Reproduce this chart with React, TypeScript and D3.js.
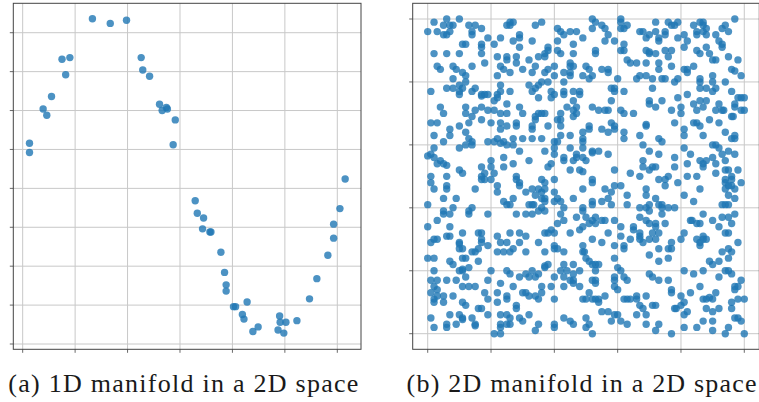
import { useEffect, useRef } from "react";
import * as d3 from "d3";

// (a) noisy sine: x in radians, y around sin(x)
const sineX = [
  0.13, 0.13, 0.39, 0.46, 0.55, 0.75, 0.82, 0.9, 1.33, 1.67, 1.98, 2.26, 2.29, 2.42, 2.61, 2.66, 2.74,
  2.76, 2.91, 2.87, 3.29, 3.33, 3.45, 3.43, 3.57, 3.59, 3.78, 3.85, 3.88, 3.88, 4.02, 4.06, 4.28, 4.19,
  4.22, 4.39, 4.49, 4.9, 4.91, 5.02, 4.87, 4.98, 5.23, 5.47, 5.61, 5.82, 5.93, 5.93, 6.05, 6.15,
];
const sineY = [
  0.29, 0.23, 0.51, 0.47, 0.59, 0.83, 0.73, 0.84, 1.09, 1.06, 1.08, 0.84, 0.76, 0.72, 0.54, 0.5, 0.52,
  0.51, 0.44, 0.28, -0.08, -0.16, -0.19, -0.26, -0.28, -0.28, -0.41, -0.54, -0.62, -0.66, -0.76, -0.76,
  -0.73, -0.81, -0.84, -0.92, -0.89, -0.82, -0.86, -0.86, -0.91, -0.93, -0.85, -0.71, -0.58, -0.43,
  -0.32, -0.23, -0.13, 0.06,
];
const sineXTicks = [0, 1, 2, 3, 4, 5, 6];
const sineYTicks = [-1, -0.75, -0.5, -0.25, 0, 0.25, 0.5, 0.75, 1];

// (b) points filling the unit square
const planeTop: [number, number][] = [
  [0.0, 0.96], [0.02, 0.99], [0.03, 0.96], [0.05, 0.95], [0.05, 0.98], [0.06, 1.0], [0.07, 0.98], [0.07, 0.96],
  [0.08, 0.98], [0.06, 0.95], [0.1, 1.0], [0.13, 0.98], [0.15, 0.98], [0.14, 0.96], [0.14, 0.95], [0.17, 0.97],
  [0.17, 0.92], [0.19, 0.94], [0.17, 0.91], [0.11, 0.92], [0.12, 0.92], [0.21, 0.92], [0.23, 0.94], [0.25, 0.98],
  [0.26, 0.99], [0.27, 0.99], [0.26, 0.98], [0.29, 0.95], [0.29, 0.94], [0.27, 0.93], [0.29, 0.91], [0.25, 0.88],
  [0.25, 0.87], [0.28, 0.88], [0.28, 0.86], [0.22, 0.88], [0.23, 0.85], [0.24, 0.84], [0.26, 0.83], [0.22, 0.82],
  [0.3, 0.84], [0.02, 0.89], [0.06, 0.89], [0.1, 0.89], [0.03, 0.85], [0.04, 0.84], [0.08, 0.85], [0.09, 0.84],
  [0.14, 0.85], [0.17, 0.89], [0.18, 0.86], [0.11, 0.83], [0.12, 0.82], [0.12, 0.8], [0.08, 0.81], [0.08, 0.78],
  [0.06, 0.78], [0.1, 0.79], [0.11, 0.78], [0.1, 0.77], [0.1, 0.76], [0.01, 0.77], [0.14, 0.77], [0.15, 0.78],
  [0.17, 0.76], [0.18, 0.76], [0.19, 0.76], [0.17, 0.755], [0.21, 0.74], [0.22, 0.76], [0.23, 0.77], [0.23, 0.79],
  [0.26, 0.77], [0.22, 0.75], [0.04, 0.72], [0.05, 0.7], [0.12, 0.72], [0.12, 0.7], [0.14, 0.69], [0.15, 0.71],
  [0.17, 0.72], [0.17, 0.68], [0.19, 0.71], [0.21, 0.71], [0.23, 0.7], [0.25, 0.73], [0.25, 0.7], [0.29, 0.72],
  [0.3, 0.7], [0.01, 0.67], [0.03, 0.67], [0.07, 0.65], [0.07, 0.63], [0.1, 0.66], [0.12, 0.64], [0.13, 0.67],
  [0.13, 0.62], [0.14, 0.61], [0.2, 0.67], [0.23, 0.67], [0.23, 0.65], [0.22, 0.62], [0.24, 0.61], [0.25, 0.66],
  [0.28, 0.67], [0.28, 0.66], [0.27, 0.62], [0.3, 0.62], [0.02, 0.63], [0.05, 0.61], [0.1, 0.59], [0.12, 0.6],
  [0.14, 0.6], [0.19, 0.61], [0.21, 0.61], [0.23, 0.605], [0.25, 0.6], [0.27, 0.6], [0.29, 0.58], [0.02, 0.59],
  [0.01, 0.57], [0.0, 0.565], [0.02, 0.56], [0.04, 0.55], [0.05, 0.54], [0.06, 0.535], [0.03, 0.54], [0.2, 0.55],
  [0.2, 0.53], [0.17, 0.53], [0.18, 0.51], [0.21, 0.51], [0.24, 0.56], [0.24, 0.53], [0.27, 0.54], [0.01, 0.5],
  [0.06, 0.5], [0.1, 0.52], [0.11, 0.51], [0.17, 0.5], [0.28, 0.5],
  [0.34, 0.98], [0.36, 0.99], [0.41, 0.97], [0.42, 0.96], [0.43, 0.95], [0.45, 0.96], [0.47, 0.96], [0.49, 0.94],
  [0.52, 0.97], [0.52, 1.0], [0.53, 0.99], [0.55, 0.98], [0.56, 0.97], [0.57, 0.95], [0.59, 0.93], [0.61, 1.0],
  [0.61, 0.99], [0.63, 0.98], [0.61, 0.97], [0.62, 0.97], [0.56, 0.93], [0.62, 0.92], [0.62, 0.9], [0.33, 0.93],
  [0.32, 0.87], [0.35, 0.88], [0.34, 0.85], [0.33, 0.83], [0.37, 0.83], [0.38, 0.84], [0.37, 0.88], [0.38, 0.9],
  [0.38, 0.91], [0.37, 0.89], [0.41, 0.93], [0.41, 0.9], [0.42, 0.89], [0.46, 0.92], [0.46, 0.89], [0.45, 0.86],
  [0.45, 0.85], [0.45, 0.83], [0.45, 0.82], [0.43, 0.83], [0.46, 0.85], [0.4, 0.85], [0.4, 0.82], [0.49, 0.82],
  [0.5, 0.85], [0.51, 0.84], [0.51, 0.81], [0.52, 0.82], [0.53, 0.89], [0.53, 0.9], [0.55, 0.84], [0.57, 0.84],
  [0.57, 0.83], [0.6, 0.81], [0.61, 0.9], [0.63, 0.87], [0.64, 0.86], [0.32, 0.79], [0.34, 0.78], [0.33, 0.77],
  [0.35, 0.79], [0.35, 0.75], [0.36, 0.8], [0.38, 0.8], [0.39, 0.77], [0.39, 0.75], [0.4, 0.76], [0.43, 0.8],
  [0.43, 0.77], [0.43, 0.76], [0.46, 0.77], [0.46, 0.74], [0.48, 0.77], [0.48, 0.76], [0.52, 0.72], [0.54, 0.71],
  [0.56, 0.71], [0.57, 0.71], [0.58, 0.74], [0.58, 0.78], [0.59, 0.78], [0.59, 0.77], [0.62, 0.77], [0.61, 0.71],
  [0.62, 0.7], [0.65, 0.7], [0.35, 0.7], [0.34, 0.69], [0.36, 0.7], [0.37, 0.7], [0.34, 0.68], [0.33, 0.66],
  [0.33, 0.65], [0.38, 0.66], [0.41, 0.68], [0.42, 0.7], [0.42, 0.68], [0.42, 0.66], [0.44, 0.72], [0.46, 0.71],
  [0.47, 0.72], [0.47, 0.7], [0.46, 0.69], [0.49, 0.64], [0.51, 0.66], [0.51, 0.65], [0.55, 0.65], [0.58, 0.67],
  [0.59, 0.66], [0.59, 0.65], [0.57, 0.64], [0.62, 0.64], [0.62, 0.62], [0.33, 0.62], [0.36, 0.62], [0.4, 0.61],
  [0.41, 0.61], [0.42, 0.63], [0.45, 0.63], [0.49, 0.62], [0.49, 0.61], [0.45, 0.59], [0.49, 0.59], [0.52, 0.58],
  [0.52, 0.575], [0.54, 0.58], [0.57, 0.57], [0.37, 0.58], [0.4, 0.59], [0.4, 0.57], [0.47, 0.57], [0.47, 0.56],
  [0.49, 0.56], [0.43, 0.56], [0.43, 0.55], [0.46, 0.55], [0.5, 0.55], [0.32, 0.55], [0.38, 0.53], [0.39, 0.54],
  [0.45, 0.52], [0.48, 0.52], [0.49, 0.515], [0.59, 0.52], [0.64, 0.51],
  [0.72, 0.99], [0.76, 0.99], [0.77, 0.98], [0.78, 0.98], [0.79, 0.99], [0.67, 0.96], [0.68, 0.96], [0.69, 0.94],
  [0.7, 0.95], [0.72, 0.96], [0.73, 0.94], [0.73, 0.93], [0.75, 0.96], [0.75, 0.95], [0.79, 0.94], [0.81, 0.95],
  [0.82, 0.93], [0.84, 0.98], [0.85, 0.96], [0.85, 0.95], [0.86, 0.99], [0.87, 0.99], [0.87, 0.98], [0.88, 0.97],
  [0.88, 0.95], [0.87, 0.96], [0.91, 0.95], [0.92, 0.93], [0.93, 0.92], [0.93, 0.97], [0.94, 0.98], [0.95, 0.96],
  [0.97, 1.0], [0.69, 0.9], [0.7, 0.895], [0.7, 0.89], [0.72, 0.89], [0.75, 0.9], [0.77, 0.9], [0.76, 0.88],
  [0.73, 0.86], [0.77, 0.85], [0.69, 0.86], [0.66, 0.86], [0.81, 0.91], [0.85, 0.9], [0.86, 0.89], [0.88, 0.91],
  [0.89, 0.89], [0.9, 0.87], [0.91, 0.87], [0.93, 0.91], [0.95, 0.88], [0.98, 0.87], [0.96, 0.84], [0.97, 0.835],
  [0.99, 0.82], [0.73, 0.84], [0.81, 0.84], [0.82, 0.83], [0.82, 0.84], [0.84, 0.85], [0.67, 0.82], [0.66, 0.81],
  [0.69, 0.82], [0.71, 0.81], [0.74, 0.81], [0.75, 0.81], [0.79, 0.81], [0.78, 0.8], [0.86, 0.81], [0.86, 0.8],
  [0.9, 0.82], [0.9, 0.8], [0.94, 0.8], [0.71, 0.78], [0.7, 0.74], [0.7, 0.73], [0.72, 0.72], [0.74, 0.74],
  [0.77, 0.71], [0.79, 0.75], [0.8, 0.72], [0.8, 0.7], [0.82, 0.76], [0.84, 0.73], [0.85, 0.71], [0.86, 0.74],
  [0.87, 0.72], [0.88, 0.74], [0.88, 0.78], [0.91, 0.78], [0.86, 0.78], [0.9, 0.77], [0.92, 0.73], [0.91, 0.71],
  [0.93, 0.71], [0.935, 0.71], [0.96, 0.77], [0.98, 0.75], [0.97, 0.73], [0.99, 0.75], [1.0, 0.75], [0.99, 0.71],
  [1.0, 0.71], [0.97, 0.72], [0.96, 0.69], [0.965, 0.69], [0.89, 0.68], [0.84, 0.67], [0.85, 0.67], [0.86, 0.66],
  [0.92, 0.67], [0.78, 0.67], [0.69, 0.66], [0.69, 0.665], [0.81, 0.65], [0.81, 0.63], [0.87, 0.63], [0.94, 0.64],
  [0.96, 0.62], [0.97, 0.63], [0.97, 0.62], [0.67, 0.63], [0.68, 0.6], [0.73, 0.62], [0.74, 0.61], [0.81, 0.59],
  [0.83, 0.57], [0.9, 0.6], [0.91, 0.6], [0.92, 0.59], [0.93, 0.57], [0.95, 0.58], [0.97, 0.57], [0.94, 0.55],
  [0.9, 0.56], [0.91, 0.54], [0.88, 0.55], [0.87, 0.54], [0.86, 0.55], [0.87, 0.53], [0.82, 0.54], [0.78, 0.56],
  [0.78, 0.53], [0.73, 0.57], [0.71, 0.53], [0.72, 0.53], [0.7, 0.58], [0.68, 0.55], [0.68, 0.53], [0.7, 0.52],
  [0.67, 0.5], [0.76, 0.5], [0.82, 0.5], [0.85, 0.5], [0.91, 0.51], [0.94, 0.52], [0.95, 0.52], [0.96, 0.5],
  [0.98, 0.52],
];

const planeBottom: [number, number][] = [
  [0.01, 0.48], [0.02, 0.46], [0.06, 0.47], [0.06, 0.46], [0.05, 0.43], [0.09, 0.43], [0.17, 0.49], [0.15, 0.46],
  [0.18, 0.49], [0.2, 0.49], [0.22, 0.47], [0.22, 0.45], [0.28, 0.49], [0.29, 0.48], [0.29, 0.47], [0.24, 0.42],
  [0.25, 0.41], [0.26, 0.41], [0.27, 0.43], [0.28, 0.38], [0.0, 0.41], [0.05, 0.39], [0.05, 0.38], [0.07, 0.38],
  [0.08, 0.4], [0.13, 0.39], [0.13, 0.38], [0.14, 0.4], [0.19, 0.38], [0.0, 0.34], [0.03, 0.36], [0.07, 0.34],
  [0.11, 0.32], [0.01, 0.29], [0.02, 0.3], [0.03, 0.3], [0.06, 0.31], [0.07, 0.31], [0.1, 0.29], [0.1, 0.285],
  [0.1, 0.27], [0.11, 0.27], [0.11, 0.24], [0.12, 0.24], [0.14, 0.26], [0.15, 0.26], [0.16, 0.27], [0.17, 0.29],
  [0.16, 0.32], [0.17, 0.32], [0.17, 0.3], [0.19, 0.28], [0.16, 0.23], [0.22, 0.31], [0.23, 0.29], [0.26, 0.32],
  [0.29, 0.32], [0.29, 0.29], [0.25, 0.29], [0.24, 0.26], [0.22, 0.26], [0.26, 0.26], [0.27, 0.27], [0.0, 0.24],
  [0.02, 0.24], [0.07, 0.23], [0.08, 0.22], [0.1, 0.2], [0.11, 0.2], [0.11, 0.205], [0.13, 0.21], [0.12, 0.18],
  [0.09, 0.17], [0.06, 0.17], [0.03, 0.17], [0.02, 0.2], [0.01, 0.17], [0.2, 0.2], [0.19, 0.17], [0.23, 0.16],
  [0.25, 0.2], [0.26, 0.19], [0.27, 0.15], [0.29, 0.18], [0.3, 0.13], [0.01, 0.13], [0.02, 0.15], [0.03, 0.14],
  [0.03, 0.12], [0.05, 0.12], [0.02, 0.11], [0.02, 0.1], [0.05, 0.1], [0.08, 0.12], [0.11, 0.1], [0.11, 0.15],
  [0.13, 0.15], [0.15, 0.15], [0.18, 0.13], [0.19, 0.11], [0.22, 0.1], [0.22, 0.13], [0.25, 0.12], [0.28, 0.09],
  [0.28, 0.08], [0.25, 0.11], [0.16, 0.08], [0.17, 0.08], [0.19, 0.06], [0.12, 0.09], [0.1, 0.06], [0.07, 0.06],
  [0.06, 0.03], [0.06, 0.02], [0.09, 0.03], [0.11, 0.05], [0.11, 0.045], [0.14, 0.05], [0.15, 0.03], [0.15, 0.025],
  [0.01, 0.05], [0.02, 0.02], [0.23, 0.06], [0.25, 0.06], [0.26, 0.05], [0.26, 0.03], [0.23, 0.03], [0.23, 0.02],
  [0.25, 0.03], [0.29, 0.05], [0.3, 0.04], [0.21, 0.0], [0.23, 0.0],
  [0.31, 0.45], [0.33, 0.46], [0.34, 0.44], [0.35, 0.46], [0.36, 0.49], [0.37, 0.48], [0.37, 0.46], [0.36, 0.45],
  [0.36, 0.43], [0.37, 0.43], [0.37, 0.42], [0.4, 0.49], [0.4, 0.45], [0.4, 0.42], [0.41, 0.43], [0.42, 0.42],
  [0.46, 0.43], [0.49, 0.46], [0.52, 0.48], [0.52, 0.49], [0.52, 0.42], [0.52, 0.41], [0.56, 0.46], [0.55, 0.42],
  [0.58, 0.45], [0.57, 0.43], [0.58, 0.41], [0.59, 0.47], [0.61, 0.47], [0.63, 0.44], [0.63, 0.41], [0.32, 0.41],
  [0.33, 0.41], [0.335, 0.41], [0.33, 0.38], [0.35, 0.39], [0.36, 0.4], [0.37, 0.39], [0.31, 0.38], [0.31, 0.31],
  [0.35, 0.29], [0.37, 0.32], [0.38, 0.32], [0.39, 0.33], [0.4, 0.32], [0.43, 0.4], [0.42, 0.38], [0.41, 0.35],
  [0.43, 0.36], [0.45, 0.32], [0.47, 0.37], [0.48, 0.33], [0.49, 0.34], [0.49, 0.39], [0.5, 0.37], [0.49, 0.4],
  [0.51, 0.35], [0.52, 0.36], [0.53, 0.37], [0.53, 0.35], [0.55, 0.36], [0.56, 0.36], [0.52, 0.3], [0.55, 0.29],
  [0.57, 0.32], [0.59, 0.36], [0.61, 0.34], [0.61, 0.31], [0.62, 0.28], [0.59, 0.28], [0.59, 0.24], [0.62, 0.27],
  [0.64, 0.3], [0.65, 0.34], [0.65, 0.33], [0.31, 0.26], [0.37, 0.26], [0.4, 0.28], [0.4, 0.27], [0.41, 0.27],
  [0.43, 0.26], [0.49, 0.28], [0.49, 0.26], [0.495, 0.26], [0.5, 0.24], [0.51, 0.23], [0.53, 0.22], [0.54, 0.22],
  [0.52, 0.22], [0.43, 0.22], [0.46, 0.22], [0.44, 0.2], [0.42, 0.2], [0.43, 0.18], [0.46, 0.19], [0.48, 0.2],
  [0.53, 0.2], [0.53, 0.17], [0.53, 0.16], [0.52, 0.17], [0.31, 0.19], [0.32, 0.18], [0.33, 0.2], [0.35, 0.19],
  [0.34, 0.18], [0.37, 0.21], [0.38, 0.22], [0.37, 0.215], [0.4, 0.18], [0.36, 0.15], [0.36, 0.13], [0.39, 0.15],
  [0.43, 0.15], [0.45, 0.17], [0.46, 0.17], [0.46, 0.16], [0.48, 0.15], [0.51, 0.13], [0.52, 0.11], [0.53, 0.11],
  [0.54, 0.11], [0.56, 0.12], [0.59, 0.17], [0.6, 0.21], [0.61, 0.2], [0.59, 0.18], [0.59, 0.15], [0.6, 0.14],
  [0.62, 0.18], [0.63, 0.17], [0.62, 0.11], [0.63, 0.11], [0.64, 0.11], [0.31, 0.13], [0.32, 0.12], [0.34, 0.12],
  [0.35, 0.11], [0.4, 0.11], [0.49, 0.11], [0.5, 0.11], [0.54, 0.1], [0.55, 0.07], [0.57, 0.07], [0.59, 0.06],
  [0.6, 0.06], [0.61, 0.04], [0.58, 0.04], [0.63, 0.03], [0.5, 0.05], [0.51, 0.03], [0.5, 0.02], [0.52, 0.0],
  [0.45, 0.04], [0.46, 0.03], [0.43, 0.05], [0.4, 0.03], [0.4, 0.02], [0.35, 0.03], [0.34, 0.01], [0.32, 0.06],
  [0.73, 0.49], [0.75, 0.49], [0.75, 0.47], [0.79, 0.48], [0.81, 0.44], [0.84, 0.42], [0.86, 0.46], [0.94, 0.49],
  [0.96, 0.49], [0.94, 0.48], [0.95, 0.47], [0.94, 0.46], [0.96, 0.47], [0.99, 0.48], [0.97, 0.46], [0.95, 0.44],
  [0.97, 0.43], [0.95, 0.41], [0.94, 0.41], [0.93, 0.41], [0.69, 0.46], [0.69, 0.44], [0.72, 0.43], [0.73, 0.41],
  [0.7, 0.41], [0.69, 0.4], [0.7, 0.39], [0.67, 0.4], [0.74, 0.41], [0.74, 0.4], [0.76, 0.4], [0.78, 0.4],
  [0.74, 0.38], [0.67, 0.37], [0.69, 0.36], [0.7, 0.35], [0.72, 0.35], [0.72, 0.34], [0.75, 0.35], [0.71, 0.32],
  [0.73, 0.32], [0.67, 0.32], [0.67, 0.31], [0.67, 0.3], [0.68, 0.29], [0.7, 0.3], [0.72, 0.3], [0.77, 0.29],
  [0.8, 0.3], [0.81, 0.32], [0.83, 0.36], [0.835, 0.36], [0.85, 0.35], [0.86, 0.35], [0.87, 0.38], [0.9, 0.36],
  [0.92, 0.34], [0.93, 0.37], [0.95, 0.37], [0.97, 0.38], [0.96, 0.35], [0.94, 0.32], [0.95, 0.32], [0.87, 0.31],
  [0.88, 0.3], [0.87, 0.3], [0.86, 0.29], [0.85, 0.3], [0.86, 0.28], [0.7, 0.25], [0.73, 0.27], [0.76, 0.27],
  [0.77, 0.27], [0.76, 0.24], [0.73, 0.23], [0.93, 0.26], [0.95, 0.27], [0.96, 0.26], [0.95, 0.24], [0.98, 0.29],
  [0.89, 0.23], [0.9, 0.22], [0.92, 0.23], [0.94, 0.2], [0.95, 0.2], [0.96, 0.19], [0.81, 0.2], [0.84, 0.19],
  [0.87, 0.2], [0.92, 0.18], [0.7, 0.19], [0.71, 0.18], [0.73, 0.17], [0.76, 0.17], [0.66, 0.12], [0.69, 0.12],
  [0.77, 0.14], [0.77, 0.13], [0.83, 0.13], [0.86, 0.15], [0.91, 0.13], [0.97, 0.15], [0.98, 0.15], [0.99, 0.17],
  [0.97, 0.14], [0.96, 0.1], [0.98, 0.11], [1.0, 0.11], [0.87, 0.11], [0.88, 0.11], [0.9, 0.11], [0.89, 0.115],
  [0.66, 0.11], [0.67, 0.09], [0.68, 0.08], [0.69, 0.06], [0.66, 0.06], [0.71, 0.09], [0.72, 0.09], [0.78, 0.08],
  [0.785, 0.08], [0.8, 0.12], [0.81, 0.1], [0.8, 0.09], [0.82, 0.07], [0.81, 0.06], [0.88, 0.08], [0.9, 0.07],
  [0.92, 0.08], [0.96, 0.08], [0.97, 0.05], [0.99, 0.04], [0.98, 0.05], [0.69, 0.03], [0.72, 0.01], [0.73, 0.03],
  [0.77, 0.0], [0.81, 0.02], [0.85, 0.02], [0.87, 0.04], [0.9, 0.01], [0.9, 0.04], [0.94, 0.0], [0.95, 0.02],
  [1.0, 0.0],
];
const planeTicks = [0, 0.2, 0.4, 0.6, 0.8, 1];

const captions = ["(a) 1D manifold in a 2D space", "(b) 2D manifold in a 2D space"];

const W = 759;
const H = 402;
const DOT = "#1f77b4";

export default function App() {
  const svgRef = useRef<SVGSVGElement | null>(null);

  useEffect(() => {
    const svg = d3.select(svgRef.current);
    svg.selectAll("*").remove();

    // draws frame, grid, ticks and dots for one panel
    const panel = (
      x: d3.ScaleLinear<number, number>,
      y: d3.ScaleLinear<number, number>,
      xTicks: number[],
      yTicks: number[],
      pts: [number, number][],
    ) => {
      const g = svg.append("g");
      const [x0, x1] = x.range();
      const [y0, y1] = y.range();

      g.selectAll(".gx")
        .data(xTicks)
        .join("line")
        .attr("x1", (d) => x(d))
        .attr("x2", (d) => x(d))
        .attr("y1", y1)
        .attr("y2", y0)
        .attr("stroke", "#c8c8c8")
        .attr("stroke-width", 1);
      g.selectAll(".gy")
        .data(yTicks)
        .join("line")
        .attr("x1", x0)
        .attr("x2", x1)
        .attr("y1", (d) => y(d))
        .attr("y2", (d) => y(d))
        .attr("stroke", "#c8c8c8")
        .attr("stroke-width", 1);

      g.selectAll(".dot")
        .data(pts)
        .join("circle")
        .attr("cx", (d) => x(d[0]))
        .attr("cy", (d) => y(d[1]))
        .attr("r", 3.7)
        .attr("fill", DOT)
        .attr("fill-opacity", 0.8);

      g.append("rect")
        .attr("x", x0)
        .attr("y", y1)
        .attr("width", x1 - x0)
        .attr("height", y0 - y1)
        .attr("fill", "none")
        .attr("stroke", "#444444")
        .attr("stroke-width", 1);

      g.selectAll(".tx")
        .data(xTicks)
        .join("line")
        .attr("x1", (d) => x(d))
        .attr("x2", (d) => x(d))
        .attr("y1", y0)
        .attr("y2", y0 + 3.5)
        .attr("stroke", "#444444")
        .attr("stroke-width", 0.8);
      g.selectAll(".ty")
        .data(yTicks)
        .join("line")
        .attr("x1", x0 - 3.5)
        .attr("x2", x0)
        .attr("y1", (d) => y(d))
        .attr("y2", (d) => y(d))
        .attr("stroke", "#444444")
        .attr("stroke-width", 0.8);
    };

    const xa = d3.scaleLinear().domain([-0.179, 6.452]).range([13.3, 361]);
    const ya = d3.scaleLinear().domain([-1.034, 1.189]).range([349.3, 3.3]);
    panel(xa, ya, sineXTicks, sineYTicks, sineX.map((v, i) => [v, sineY[i]] as [number, number]));

    const xb = d3.scaleLinear().domain([-0.0474, 1.0474]).range([412.7, 759.3]);
    const yb = d3.scaleLinear().domain([-0.0496, 1.0499]).range([349.3, 3.3]);
    panel(xb, yb, planeTicks, planeTicks, [...planeTop, ...planeBottom]);

    svg.selectAll(".cap")
      .data(captions)
      .join("text")
      .attr("x", (d, i) => (i === 0 ? 8.3 : 406.6))
      .attr("y", 392)
      .attr("textLength", 350)
      .attr("lengthAdjust", "spacing")
      .style("font-family", "'Liberation Serif', serif")
      .style("font-size", "26px")
      .style("fill", "#1a1a1a")
      .text((d) => d);
  }, []);

  return (
    <svg
      ref={svgRef}
      width={W}
      height={H}
      style={{ position: "absolute", left: 0, top: 0, background: "#fff" }}
    ></svg>
  );
}
